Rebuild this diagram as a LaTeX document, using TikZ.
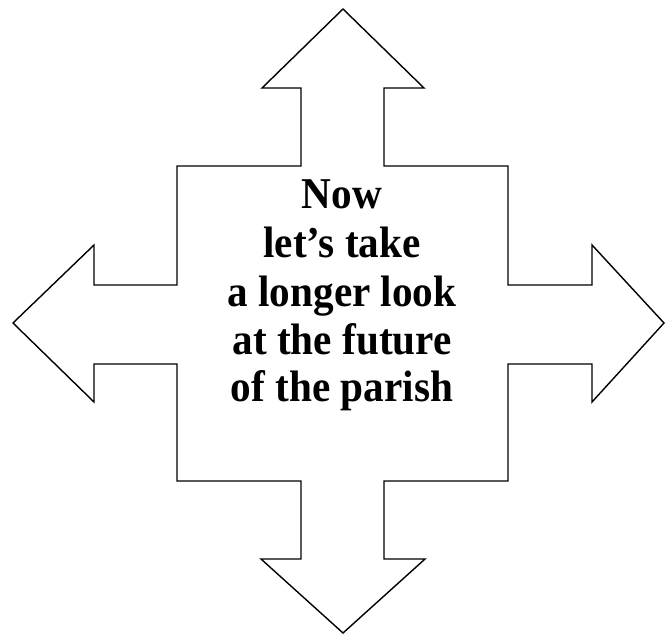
\documentclass[tikz,border=0pt]{standalone}
\usepackage{fontspec}
\setmainfont{Liberation Serif}
\begin{document}
\begin{tikzpicture}[x=1pt,y=-1pt,
  outline/.style={draw=black,line width=1.4pt,line join=miter,fill=white},
  txt/.style={anchor=base,inner sep=0pt,font=\bfseries\fontsize{40}{48}\selectfont}]
\useasboundingbox[fill=white] (0,0) rectangle (666,636);
\draw[outline] (343,9) -- (424,88) -- (384,88) -- (384,166) -- (508,166) -- (508,285)
  -- (592,285) -- (592,245) -- (664,323) -- (592,402) -- (592,364) -- (508,364)
  -- (508,481) -- (384,481) -- (384,559) -- (425,559) -- (343,633) -- (261,559)
  -- (301,559) -- (301,481) -- (177,481) -- (177,364) -- (94,364) -- (94,402)
  -- (13,323) -- (94,245) -- (94,285) -- (177,285) -- (177,166) -- (301,166)
  -- (301,88) -- (262,88) -- cycle;
\node[txt] (l1) at (342,209) {\scalebox{1.03}[1.1]{Now}};
\node[txt] (l2) at (342,258) {\scalebox{1.03}[1.1]{let’s take}};
\node[txt] (l3) at (342,306) {\scalebox{1.03}[1.1]{a longer look}};
\node[txt] (l4) at (342,354) {\scalebox{1.03}[1.1]{at the future}};
\node[txt] (l5) at (342,401) {\scalebox{1.03}[1.1]{of the parish}};
\end{tikzpicture}
\end{document}
